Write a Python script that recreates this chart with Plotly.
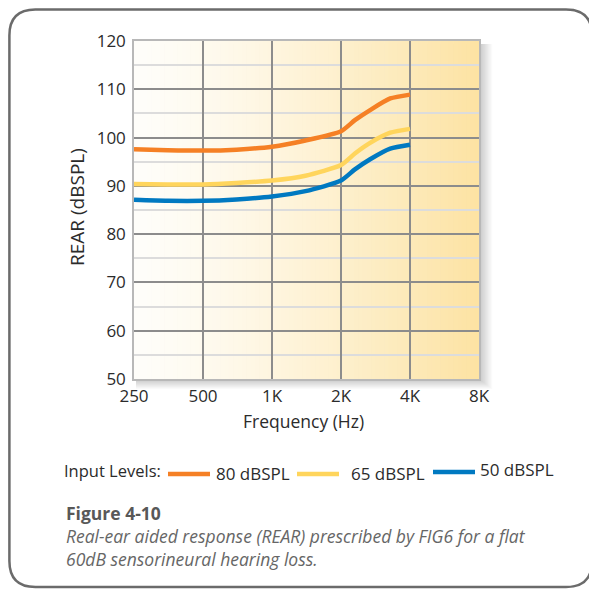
import plotly.graph_objects as go
import numpy as np

# ---------------- data ----------------
freqs = [250, 350, 500, 700, 1000, 1400, 2000, 2300, 2680, 3280, 4000]
rear_80 = [97.6, 97.4, 97.3, 97.5, 98.1, 99.4, 101.3, 103.6, 105.7, 108.1, 108.9]
rear_65 = [90.4, 90.3, 90.3, 90.6, 91.1, 92.1, 94.3, 96.7, 98.9, 101.0, 101.8]
rear_50 = [87.1, 86.9, 86.9, 87.2, 87.8, 88.9, 91.1, 93.4, 95.5, 97.7, 98.5]
series_names = ["80 dBSPL", "65 dBSPL", "50 dBSPL"]
series_colors = ["#F58025", "#FFD55C", "#0079C1"]
x_tickvals = [250, 500, 1000, 2000, 4000, 8000]
x_ticktext = ["250", "500", "1K", "2K", "4K", "8K"]
y_tickvals = [50, 60, 70, 80, 90, 100, 110, 120]

OFF = 8               # page margin of the html body
W, H = 597 - OFF, 590 - OFF
FONT = "Open Sans"
TXT = "#2b2b2b"

def px(x):
    return (x - OFF) / W

def py(y):
    return 1 - (y - OFF) / H

fig = go.Figure()
for name, vals, col in zip(series_names, [rear_80, rear_65, rear_50], series_colors):
    fig.add_trace(go.Scatter(x=freqs, y=vals, mode="lines", name=name,
                             line=dict(color=col, width=4.5, shape="spline", smoothing=0.6),
                             showlegend=False))

shapes = []
L, T, R, B = 134, 41, 479, 379
# soft shadow of plot area (drawn first, behind everything)
for k in range(1, 12):
    shapes.append(dict(type="rect", xref="paper", yref="paper",
                       x0=px(L + 2), x1=px(R + k * 1.2), y0=py(B + k * 0.9), y1=py(T + 3),
                       fillcolor="rgba(0,0,0,0.018)", line=dict(width=0), layer="below"))

# gradient background in plot area
n = 80
c0 = np.array([255, 254, 250])
c1 = np.array([253, 227, 163])
for i in range(n):
    t = (i + 0.5) / n
    c = c0 + (c1 - c0) * (t ** 1.3)
    shapes.append(dict(type="rect", xref="x domain", yref="y domain",
                       x0=i / n, x1=(i + 1) / n + 0.002, y0=0, y1=1,
                       fillcolor="rgb(%d,%d,%d)" % tuple(c.astype(int)),
                       line=dict(width=0), layer="below"))

# rounded outer border
bx0, bx1, by0, by1, r = 9.4, 592, 9.4, 587, 26
path = ("M {a},{b} L {c},{b} Q {d},{b} {d},{e} L {d},{f} Q {d},{g} {c},{g} "
        "L {a},{g} Q {h},{g} {h},{f} L {h},{e} Q {h},{b} {a},{b} Z").format(
    a=px(bx0 + r), b=py(by0), c=px(bx1 - r), d=px(bx1), e=py(by0 + r),
    f=py(by1 - r), g=py(by1), h=px(bx0))
shapes.append(dict(type="path", xref="paper", yref="paper", path=path,
                   line=dict(color="#6b6b6b", width=2.5), layer="below"))

annotations = []

def ann(text, x, y, size=16, color=TXT, xanchor="left", **kw):
    annotations.append(dict(text=text, x=px(x), y=py(y), xref="paper", yref="paper",
                            xanchor=xanchor, yanchor="middle", showarrow=False,
                            font=dict(family=FONT, size=size, color=color), **kw))

# axis titles
ann("Frequency (Hz)", 303, 421, size=17.5, xanchor="center")
ann("REAR (dBSPL)", 77, 207, size=19, xanchor="center", textangle=-90)

# custom legend
ann("Input Levels:", 62, 470, size=16.5)
leg = [(168, 210, 474, 214, 473), (297, 339, 474, 349, 473), (433, 475, 472, 478, 469)]
for (lx0, lx1, ly, tx, ty), name, col in zip(leg, series_names, series_colors):
    shapes.append(dict(type="line", xref="paper", yref="paper", x0=px(lx0), x1=px(lx1),
                       y0=py(ly), y1=py(ly), line=dict(color=col, width=4.5)))
    ann(name, tx, ty, size=17)

# caption (one block)
caption = ("<b><span style='color:#585858'>Figure 4-10</span></b><br>"
           "<i>Real-ear aided response (REAR) prescribed by FIG6 for a flat</i><br>"
           "<i>60dB sensorineural hearing loss.</i>")
ann(caption, 64, 536, size=17.5, color="#666666", align="left")

fig.update_layout(
    width=W, height=H, margin=dict(l=0, r=0, t=0, b=0, pad=0, autoexpand=False),
    paper_bgcolor="white", plot_bgcolor="white",
    shapes=shapes, annotations=annotations, showlegend=False,
    font=dict(family=FONT, size=17, color=TXT),
    xaxis=dict(type="log", domain=[px(L), px(R)], range=[np.log10(250), np.log10(8000)],
               tickvals=x_tickvals, ticktext=x_ticktext, showgrid=True, gridcolor="#8c8c8c",
               gridwidth=1.5, zeroline=False, showline=True, linecolor="#b8b8b8", linewidth=1.5,
               mirror=True, ticks="", ticklabelstandoff=1, automargin=False,
               tickfont=dict(family=FONT, size=17, color=TXT)),
    yaxis=dict(domain=[py(B), py(T)], range=[50, 120], tickvals=y_tickvals, showgrid=True,
               gridcolor="#8c8c8c", gridwidth=1.5, zeroline=False, showline=True,
               linecolor="#b8b8b8", linewidth=1.5, mirror=True, ticks="", ticklabelstandoff=3,
               automargin=False,
               minor=dict(dtick=5, tick0=50, showgrid=True, gridcolor="#dcdcdc", gridwidth=1.5),
               tickfont=dict(family=FONT, size=17, color=TXT)),
)

fig.write_html("out.html")
